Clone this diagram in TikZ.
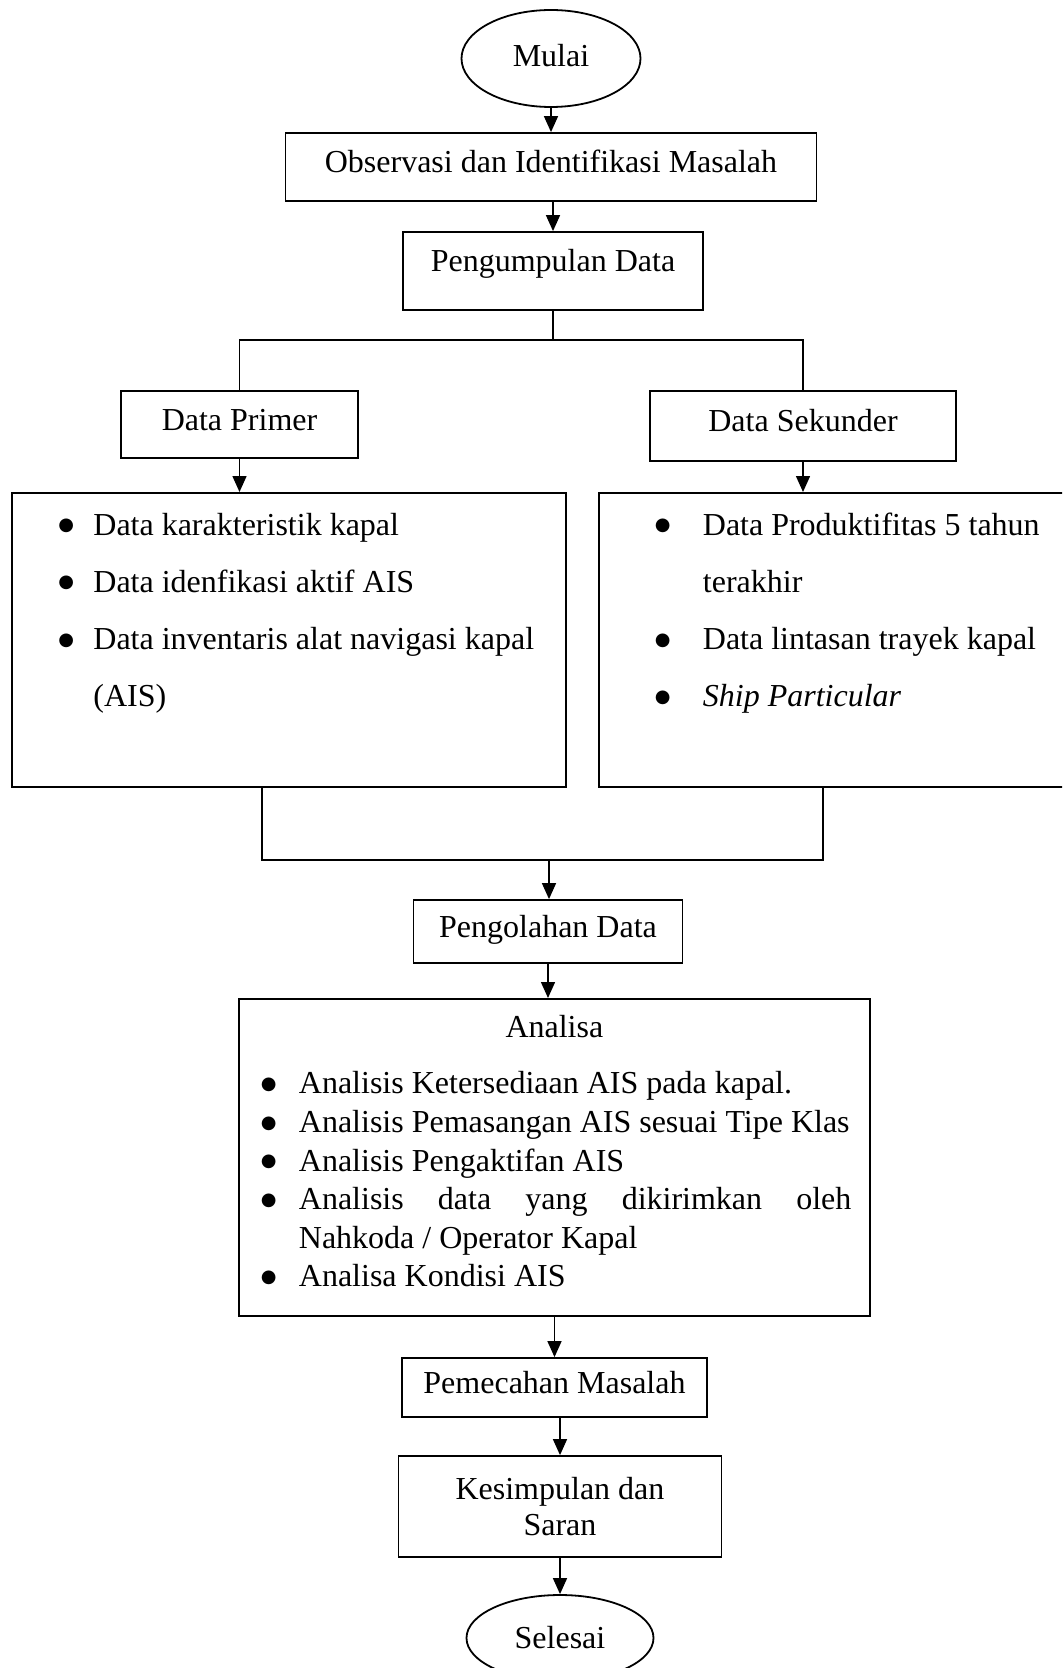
\documentclass[tikz,border=0pt]{standalone}
\usepackage{fontspec}
\setmainfont{Liberation Serif}
\newfontfamily\simbol{DejaVu Sans}
\usepackage{enumitem}
\usetikzlibrary{arrows.meta,shapes.geometric}

\newcommand{\titik}{\raisebox{2.2pt}{\simbol\fontsize{9}{9}\selectfont ●}}

\begin{document}
\begin{tikzpicture}[x=0.5pt, y=-0.5pt,
  every node/.style={font=\fontsize{16}{19.3}\selectfont},
  dasar/.style={draw, line width=0.9pt},
  kotak/.style={dasar, inner sep=0pt, text height=12pt, text depth=6.5pt},
  oval/.style={dasar, ellipse, inner sep=0pt},
  daftar/.style={dasar, anchor=north west, inner ysep=0pt, inner xsep=8pt, align=flush left,
    text height=0pt, text depth=147pt, font=\fontsize{16}{28.6}\selectfont},
  garis/.style={line width=0.75pt},
  panah/.style={garis, -{Triangle[length=8pt,width=7pt]}}]
\useasboundingbox (0,0) rectangle (1062,1668);
\clip (0,0) rectangle (1062,1668);

% alur atas
\node[oval, minimum width=89.5pt, minimum height=48.5pt, text height=11pt, text depth=3pt] (mulai) at (551,58.5) {Mulai};
\node[kotak, minimum width=265.5pt, minimum height=34pt] (obs) at (551,167) {Observasi dan Identifikasi Masalah};
\node[kotak, minimum width=150pt, minimum height=39pt, text height=20pt, text depth=19pt] (kumpul) at (553,271) {Pengumpulan Data};
\coordinate (cabang) at (553,340);
\node[kotak, minimum width=118.5pt, minimum height=33.5pt] (primer) at (239.5,424.5) {Data Primer};
\node[kotak, minimum width=153pt, minimum height=35pt] (sekunder) at (803,426) {Data Sekunder};

% daftar data
\node[daftar, text width=261pt] (kiri) at (11,492) {%
  \vspace*{-7.5pt}
  \begin{itemize}[label=\titik, leftmargin=32.75pt, labelsep=9.6pt, topsep=0pt, partopsep=0pt, itemsep=0pt, parsep=0pt]
  \item Data karakteristik kapal
  \item Data idenfikasi aktif AIS
  \item Data inventaris alat navigasi kapal (AIS)
  \end{itemize}};
\node[daftar, text width=230pt] (kanan) at (598,492) {%
  \vspace*{-7.5pt}
  \begin{itemize}[label=\titik, leftmargin=44pt, labelsep=16.2pt, topsep=0pt, partopsep=0pt, itemsep=0pt, parsep=0pt]
  \item Data Produktifitas 5 tahun terakhir
  \item Data lintasan trayek kapal
  \item \textit{Ship Particular}
  \end{itemize}};
\coordinate (gabung) at (549,860);

% alur bawah
\node[kotak, minimum width=134.5pt, minimum height=31.5pt] (olah) at (548,931.5) {Pengolahan Data};
\node[dasar, anchor=north west, inner ysep=0pt, inner xsep=9.25pt, text width=297pt, align=justify,
  text height=19.5pt, text depth=139pt] (analisa) at (238,998) {%
  {\centering Analisa\par}
  \begin{itemize}[label=\titik, leftmargin=20.75pt, labelsep=11.2pt, topsep=8.7pt, partopsep=0pt, itemsep=0pt, parsep=0pt]
  \item Analisis Ketersediaan AIS pada kapal.
  \item Analisis Pemasangan AIS sesuai Tipe Klas
  \item Analisis Pengaktifan AIS
  \item Analisis data yang dikirimkan oleh Nahkoda / Operator Kapal
  \item Analisa Kondisi AIS
  \end{itemize}};
\node[kotak, minimum width=152.5pt, minimum height=29.5pt] (pecah) at (554.5,1387.5) {Pemecahan Masalah};
\node[dasar, inner sep=0pt, align=center, minimum width=161.5pt, minimum height=50.5pt,
  font=\fontsize{16}{18}\selectfont] (simpul) at (560,1506.5) {Kesimpulan dan\\Saran};
\node[oval, minimum width=93.5pt, minimum height=43pt, text height=10.5pt, text depth=0pt] (selesai) at (560,1638) {Selesai};

% penghubung
\draw[panah] (mulai) -- (obs);
\draw[panah] (obs.south -| kumpul.north) -- (kumpul.north);
\draw[garis] (kumpul) -- (cabang);
\draw[garis] (primer) |- (cabang) -| (sekunder);
\draw[panah] (primer) -- (primer |- kiri.north);
\draw[panah] (sekunder) -- (sekunder |- kanan.north);
\draw[garis] ([xshift=-13.5pt]kiri.south) |- (gabung) -| ([xshift=-11pt]kanan.south);
\draw[panah] (gabung) -- (gabung |- olah.north);
\draw[panah] (olah) -- (olah |- analisa.north);
\draw[panah] (pecah |- analisa.south) -- (pecah);
\draw[panah] (simpul |- pecah.south) -- (simpul);
\draw[panah] (simpul) -- (selesai);
\end{tikzpicture}
\end{document}
